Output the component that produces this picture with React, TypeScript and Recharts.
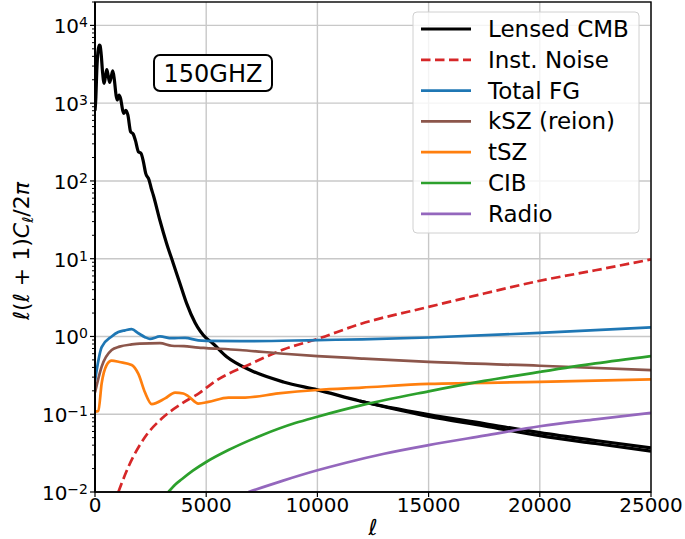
import React from 'react';
import { LineChart, Line, XAxis, YAxis, CartesianGrid } from 'recharts';

const W = 685;
const H = 539;
const PLOT_LEFT = 95;
const PLOT_RIGHT = 651;
const PLOT_TOP = 2;
const PLOT_BOTTOM = 492;
const FONT = "'DejaVu Sans', sans-serif";

// ---------- data ----------
const cmbEll = [2, 40, 80, 130, 190, 230, 280, 340, 410, 470, 530, 600, 660, 730, 800, 870, 950, 1000, 1080, 1150, 1250, 1300, 1390, 1480, 1600, 1720, 1820, 1950, 2070, 2170, 2280, 2430, 2530, 2620, 2920, 3220, 3520, 3820, 4120, 4500, 5000, 5240, 5920, 6970, 8470, 10000, 11910, 15000, 17500, 20000, 22500, 25000];
const cmbVal = [800, 1200, 2600, 4500, 5600, 5500, 4200, 2500, 1800, 2200, 2700, 2200, 1850, 2200, 2600, 2000, 1250, 1100, 1270, 1150, 800, 740, 810, 700, 430, 400, 330, 238, 226, 180, 125, 103, 80, 66, 31, 15.7, 8.7, 4.8, 2.66, 1.5, 0.95, 0.84, 0.55, 0.37, 0.26, 0.206, 0.148, 0.099, 0.076, 0.058, 0.046, 0.037];
const cmbLowEll = [11910, 15000, 17500, 20000, 22500, 25000];
const cmbLowVal = [0.148, 0.094, 0.071, 0.053, 0.042, 0.0335];

const noiseEll = [1050, 1500, 2250, 3000, 3900, 4720, 5400, 6970, 8470, 10000, 11910, 15000, 17500, 20000, 22500, 25000];
const noiseVal = [0.01, 0.021, 0.051, 0.088, 0.137, 0.19, 0.265, 0.44, 0.68, 0.93, 1.44, 2.4, 3.57, 5.2, 7.1, 9.8];

const fgEll = [0, 300, 750, 1050, 1350, 1650, 1950, 2250, 2470, 2920, 3450, 4050, 4640, 5000, 7000, 10000, 12000, 15000, 20000, 25000];
const fgVal = [0.27, 0.73, 1.0, 1.14, 1.2, 1.24, 1.1, 0.98, 0.93, 1.0, 0.95, 0.96, 0.89, 0.88, 0.87, 0.9, 0.92, 0.97, 1.11, 1.31];

const kszEll = [0, 300, 750, 1100, 1650, 2020, 2920, 3450, 4000, 4650, 5000, 6500, 8500, 10000, 12000, 15000, 20000, 25000];
const kszVal = [0.19, 0.41, 0.67, 0.74, 0.79, 0.81, 0.82, 0.76, 0.75, 0.72, 0.71, 0.67, 0.6, 0.56, 0.52, 0.47, 0.42, 0.37];

const tszEll = [0, 150, 300, 525, 750, 1100, 1650, 1950, 2250, 2550, 3150, 3600, 3970, 4200, 4650, 5100, 6000, 6750, 8240, 10000, 12000, 15000, 20000, 25000];
const tszVal = [0.108, 0.11, 0.25, 0.43, 0.49, 0.47, 0.43, 0.33, 0.19, 0.135, 0.16, 0.19, 0.185, 0.17, 0.137, 0.144, 0.164, 0.164, 0.185, 0.205, 0.22, 0.245, 0.26, 0.28];

const cibEll = [3300, 3600, 3900, 4400, 5000, 6000, 7500, 9000, 10000, 12000, 15000, 17500, 20000, 22500, 25000];
const cibVal = [0.01, 0.0124, 0.0146, 0.0188, 0.0243, 0.0346, 0.0537, 0.077, 0.093, 0.131, 0.197, 0.268, 0.35, 0.45, 0.56];

const radioEll = [6900, 8390, 10000, 11240, 13000, 15000, 17500, 20000, 22500, 25000];
const radioVal = [0.01, 0.0138, 0.019, 0.0236, 0.031, 0.04, 0.053, 0.07, 0.086, 0.104];

const xTicks = [0, 5000, 10000, 15000, 20000, 25000];
const yTicks = [0.01, 0.1, 1, 10, 100, 1000, 10000];
const yMinorMult = [2, 3, 4, 5, 6, 7, 8, 9];
const yMinorTicks = yTicks.flatMap((d) => yMinorMult.map((m) => d * m));
const yAllTicks = [...yTicks, ...yMinorTicks].sort((a, b) => a - b);
const yDomain: [number, number] = [0.01, 20000];
const xDomain: [number, number] = [0, 25000];

const toPoints = (ell: number[], val: number[]) => ell.map((l, i) => ({ ell: l, v: val[i] }));

type Series = { name: string; color: string; width: number; dash?: string; data: { ell: number; v: number }[]; legend: boolean };

const series: Series[] = [
  { name: 'Lensed CMB', color: '#000000', width: 3.2, data: toPoints(cmbEll, cmbVal), legend: true },
  { name: 'Lensed CMB (low)', color: '#000000', width: 3.2, data: toPoints(cmbLowEll, cmbLowVal), legend: false },
  { name: 'Inst. Noise', color: '#d62728', width: 2.7, dash: '9.5 4.5', data: toPoints(noiseEll, noiseVal), legend: true },
  { name: 'Total FG', color: '#1f77b4', width: 2.7, data: toPoints(fgEll, fgVal), legend: true },
  { name: 'kSZ (reion)', color: '#8c564b', width: 2.7, data: toPoints(kszEll, kszVal), legend: true },
  { name: 'tSZ', color: '#ff7f0e', width: 2.7, data: toPoints(tszEll, tszVal), legend: true },
  { name: 'CIB', color: '#2ca02c', width: 2.7, data: toPoints(cibEll, cibVal), legend: true },
  { name: 'Radio', color: '#9467bd', width: 2.7, data: toPoints(radioEll, radioVal), legend: true },
];

const isMajor = (v: number) => yTicks.some((t) => Math.abs(t - v) / t < 1e-6);

const YTick = (props: any) => {
  const { x, y, payload } = props;
  const v = payload.value;
  if (!isMajor(v)) {
    return <line x1={x - 3} x2={x} y1={y} y2={y} stroke="#000" strokeWidth={1} />;
  }
  const exp = Math.round(Math.log10(v));
  const sup = exp < 0 ? '\u2212' + Math.abs(exp) : String(exp);
  return (
    <g>
      <line x1={x - 5} x2={x} y1={y} y2={y} stroke="#000" strokeWidth={1.2} />
      <text x={x - 7} y={y + 8} textAnchor="end" fontFamily={FONT} fontSize={20} fill="#000">
        10
        <tspan dy={-6} fontSize={14}>{sup}</tspan>
      </text>
    </g>
  );
};

const Overlay = () => {
  const legendItems = series.filter((s) => s.legend);
  const lgX = 413;
  const lgY = 12;
  const lgW = 226;
  const lgH = 221;
  const rowStart = 17;
  const rowStep = 30.8;
  return (
    <svg width={W} height={H} style={{ position: 'absolute', left: 0, top: 0, pointerEvents: 'none' }}>
      {/* axes frame */}
      <rect x={PLOT_LEFT} y={PLOT_TOP} width={PLOT_RIGHT - PLOT_LEFT} height={PLOT_BOTTOM - PLOT_TOP} fill="none" stroke="#000" strokeWidth={1.4} />
      <line x1={PLOT_LEFT} x2={PLOT_LEFT} y1={PLOT_TOP} y2={PLOT_BOTTOM} stroke="#000" strokeWidth={1.8} />
      {/* annotation box */}
      <rect x={154} y={55} width={118} height={36} rx={6} ry={6} fill="#fff" stroke="#000" strokeWidth={2} />
      <text x={213} y={81.5} textAnchor="middle" fontFamily={FONT} fontSize={24} fill="#000">150GHZ</text>
      {/* legend */}
      <rect x={lgX} y={lgY} width={lgW} height={lgH} rx={4} ry={4} fill="#fff" fillOpacity={0.8} stroke="#d0d0d0" strokeWidth={1} />
      {legendItems.map((s, i) => {
        const cy = lgY + rowStart + i * rowStep;
        return (
          <g key={s.name}>
            <line x1={lgX + 8} x2={lgX + 58} y1={cy} y2={cy} stroke={s.color} strokeWidth={s.width} strokeDasharray={s.dash} />
            <text x={lgX + 75} y={cy + 8} fontFamily={FONT} fontSize={23} fill="#000">{s.name}</text>
          </g>
        );
      })}
      {/* x label */}
      <text x={373} y={535} textAnchor="middle" fontFamily={FONT} fontSize={22} fontStyle="italic" fill="#000">ℓ</text>
      {/* y label */}
      <g transform="translate(29,251) rotate(-90)">
        <text x={0} y={0} textAnchor="middle" fontFamily={FONT} fontSize={22} fill="#000">
          <tspan fontStyle="italic">ℓ</tspan>
          <tspan>(</tspan>
          <tspan fontStyle="italic">ℓ</tspan>
          <tspan> + 1)</tspan>
          <tspan fontStyle="italic">C</tspan>
          <tspan fontStyle="italic" fontSize={15} dy={4}>ℓ</tspan>
          <tspan dy={-4}>/2</tspan>
          <tspan fontStyle="italic">π</tspan>
        </text>
      </g>
    </svg>
  );
};

export default function App() {
  return (
    <div style={{ position: 'absolute', left: 0, top: 0, width: W, height: H, background: '#fff' }}>
      <LineChart width={W} height={H} margin={{ top: PLOT_TOP, right: W - PLOT_RIGHT, left: 0, bottom: 0 }}>
        <CartesianGrid stroke="#c8c8c8" strokeWidth={1.4} horizontalValues={yTicks} verticalValues={xTicks} />
        <YAxis
          scale="log"
          type="number"
          domain={yDomain}
          allowDataOverflow
          ticks={yAllTicks}
          interval={0}
          tick={YTick}
          tickSize={0}
          tickMargin={0}
          tickLine={false}
          axisLine={{ stroke: '#000', strokeWidth: 1.6 }}
          width={PLOT_LEFT}
        />
        <XAxis
          type="number"
          dataKey="ell"
          domain={xDomain}
          allowDataOverflow
          ticks={xTicks}
          interval={0}
          tickSize={5}
          tickMargin={1}
          tick={{ fill: '#000', fontSize: 20, fontFamily: FONT }}
          tickLine={{ stroke: '#000', strokeWidth: 1.2 }}
          axisLine={{ stroke: '#000', strokeWidth: 1.4 }}
          height={H - PLOT_BOTTOM}
        />
        {series.map((s) => (
          <Line
            key={s.name}
            data={s.data}
            dataKey="v"
            name={s.name}
            type="monotone"
            stroke={s.color}
            strokeWidth={s.width}
            strokeDasharray={s.dash}
            dot={false}
            activeDot={false}
            isAnimationActive={false}
            strokeLinejoin="round"
          />
        ))}
      </LineChart>
      <Overlay />
    </div>
  );
}
